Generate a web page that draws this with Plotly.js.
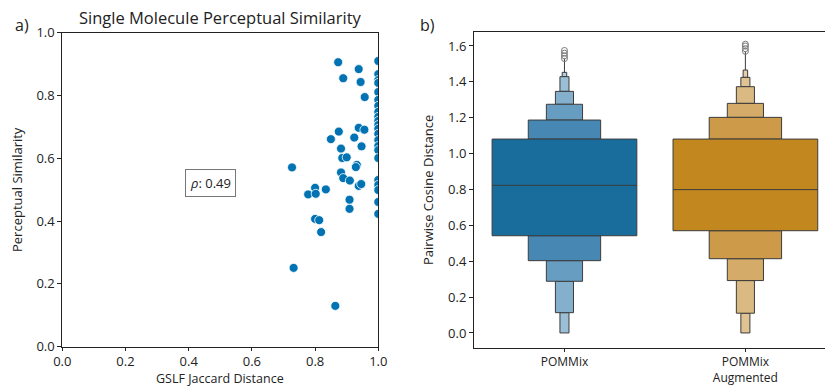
<!DOCTYPE html>
<html><head><meta charset="utf-8">
<script src="https://cdn.plot.ly/plotly-3.0.1.min.js"></script>
<style>html,body{margin:0;padding:0;background:#fff}#chart{width:825px;height:387px}</style>
</head><body><div id="chart"></div>
<script>
// ---- Panel a) scatter data ----
const jaccardX = [0.873,0.938,0.889,0.944,0.957,0.938,0.956,0.875,0.850,0.924,0.947,0.882,0.886,0.900,0.727,0.932,0.929,0.882,0.889,0.910,0.800,0.834,0.938,0.946,0.778,0.802,0.909,0.909,0.800,0.813,0.819,0.732,0.864,
  1,1,1,1,1,1,1,1,1,1,1,1,1,1,1,1,1,1,1,1,1,1];
const perceptY = [0.906,0.884,0.855,0.843,0.795,0.697,0.691,0.685,0.661,0.666,0.638,0.631,0.601,0.603,0.571,0.579,0.572,0.555,0.537,0.529,0.506,0.501,0.512,0.518,0.485,0.487,0.468,0.439,0.407,0.403,0.365,0.251,0.130,
  0.910,0.868,0.849,0.840,0.811,0.786,0.767,0.748,0.732,0.719,0.706,0.694,0.678,0.658,0.639,0.626,0.601,0.531,0.515,0.499,0.461,0.423];
const rhoText = "<i>ρ</i>: 0.49";

// ---- Panel b) boxen data ----
const categories = ["POMMix", "POMMix<br>Augmented"];
const medians = [0.823, 0.799];
const upperEdges = [
  [1.081, 1.187, 1.275, 1.347, 1.429, 1.453],
  [1.081, 1.202, 1.280, 1.373, 1.425, 1.466]
];
const lowerEdges = [
  [0.542, 0.403, 0.288, 0.113, 0.000],
  [0.570, 0.414, 0.292, 0.110, 0.000]
];
const outliers = [
  [1.530, 1.545, 1.560, 1.575],
  [1.570, 1.585, 1.600, 1.610]
];
const yTicksA = [0.0,0.2,0.4,0.6,0.8,1.0];
const yTicksB = [0.0,0.2,0.4,0.6,0.8,1.0,1.2,1.4,1.6];

// ---- styles ----
const levelColors = [
  ["#186d9d","#4688b3","#669dc1","#84afcd","#9bbfd7","#b2cee2"],
  ["#c3871f","#cc9a48","#d4ab69","#dab982","#dfc393","#e6cfa8"]
];
const edgeColor = "#3c3c3c";
const font = "'Open Sans', 'DejaVu Sans', sans-serif";

const traces = [];
traces.push({
  type:"scatter", mode:"markers", x:jaccardX, y:perceptY, xaxis:"x", yaxis:"y",
  marker:{color:"#0173b2", size:9, line:{color:"#ffffff", width:0.8}},
  cliponaxis:true, hoverinfo:"skip", showlegend:false
});

const nLevels = 6;
for (let k = nLevels-1; k >= 0; k--) {
  const w = 0.8 / Math.pow(2, k);
  const xs=[], bases=[], hs=[], cols=[], ws=[];
  for (let c = 0; c < categories.length; c++) {
    if (k === 0) {
      xs.push(c); bases.push(lowerEdges[c][0]); hs.push(upperEdges[c][0]-lowerEdges[c][0]);
      cols.push(levelColors[c][0]); ws.push(w);
    } else {
      if (k < upperEdges[c].length) {
        xs.push(c); bases.push(upperEdges[c][k-1]); hs.push(upperEdges[c][k]-upperEdges[c][k-1]);
        cols.push(levelColors[c][k]); ws.push(w);
      }
      if (k < lowerEdges[c].length) {
        xs.push(c); bases.push(lowerEdges[c][k]); hs.push(lowerEdges[c][k-1]-lowerEdges[c][k]);
        cols.push(levelColors[c][k]); ws.push(w);
      }
    }
  }
  traces.push({
    type:"bar", x:xs, y:hs, base:bases, width:ws, xaxis:"x2", yaxis:"y2",
    marker:{color:cols, line:{color:edgeColor, width:1}},
    hoverinfo:"skip", showlegend:false
  });
}
for (let c = 0; c < categories.length; c++) {
  traces.push({type:"scatter", mode:"lines", x:[c-0.4, c+0.4], y:[medians[c], medians[c]],
    xaxis:"x2", yaxis:"y2", line:{color:edgeColor, width:1}, hoverinfo:"skip", showlegend:false});
  const top = upperEdges[c][upperEdges[c].length-1];
  traces.push({type:"scatter", mode:"lines", x:[c, c], y:[top, Math.min(...outliers[c])],
    xaxis:"x2", yaxis:"y2", line:{color:edgeColor, width:1}, hoverinfo:"skip", showlegend:false});
  traces.push({type:"scatter", mode:"markers", x:outliers[c].map(()=>c), y:outliers[c],
    xaxis:"x2", yaxis:"y2", marker:{symbol:"circle-open", size:6, color:"#7a7a7a", line:{width:1}},
    hoverinfo:"skip", showlegend:false});
}

const W = 825, H = 387;
const fx = p => p / W, fy = p => (H - p) / H;
const tickFont = {family:font, size:13, color:"#222"};
const axBase = {showgrid:false, zeroline:false, showline:true, linecolor:"#222", linewidth:1,
  ticks:"outside", ticklen:4, tickcolor:"#222", tickfont:tickFont};

const layout = {
  width:W, height:H, margin:{l:0,r:0,t:0,b:0}, paper_bgcolor:"#fff", plot_bgcolor:"#fff",
  barmode:"overlay", bargap:0, font:{family:font, color:"#222"},
  xaxis: Object.assign({}, axBase, {domain:[fx(62.3), fx(378.3)], range:[0,1], mirror:true,
    tickvals:yTicksA, tickformat:".1f", anchor:"y", ticklen:3}),
  yaxis: Object.assign({}, axBase, {domain:[fy(346.7), fy(32.7)], range:[0,1], mirror:true,
    tickvals:yTicksA, tickformat:".1f", anchor:"x"}),
  xaxis2: Object.assign({}, axBase, {domain:[fx(474), 1], range:[-0.5, 1.44], mirror:true,
    tickvals:[0,1], ticktext:categories, anchor:"y2", ticklen:3,
    tickfont:{family:font, size:12, color:"#222"}}),
  yaxis2: Object.assign({}, axBase, {domain:[fy(348), fy(32)], range:[-0.084, 1.678],
    tickvals:yTicksB, tickformat:".1f", anchor:"x2"}),
  annotations:[
    {xref:"paper", yref:"paper", x:fx(220), y:fy(17), text:"Single Molecule Perceptual Similarity",
      showarrow:false, font:{family:font, size:16.5, color:"#222"}, xanchor:"center", yanchor:"middle"},
    {xref:"paper", yref:"paper", x:fx(13), y:fy(25), text:"a)", showarrow:false,
      font:{family:font, size:16, color:"#222"}, xanchor:"left", yanchor:"middle"},
    {xref:"paper", yref:"paper", x:fx(418), y:fy(25), text:"b)", showarrow:false,
      font:{family:font, size:16, color:"#222"}, xanchor:"left", yanchor:"middle"},
    {xref:"paper", yref:"paper", x:fx(220), y:fy(378.5), text:"GSLF Jaccard Distance", showarrow:false,
      font:{family:font, size:12.5, color:"#222"}, xanchor:"center", yanchor:"middle", borderpad:0},
    {xref:"paper", yref:"paper", x:fx(17), y:fy(190), text:"Perceptual Similarity", showarrow:false, textangle:-90,
      font:{family:font, size:13, color:"#222"}, xanchor:"center", yanchor:"middle"},
    {xref:"paper", yref:"paper", x:fx(428), y:fy(190), text:"Pairwise Cosine Distance", showarrow:false, textangle:-90,
      font:{family:font, size:13, color:"#222"}, xanchor:"center", yanchor:"middle"},
    {xref:"x", yref:"y", x:0.47, y:0.521, text:rhoText, showarrow:false,
      font:{family:font, size:13, color:"#222"}, bordercolor:"#777", borderwidth:1, borderpad:4,
      bgcolor:"#fff", xanchor:"center", yanchor:"middle"}
  ]
};
Plotly.newPlot("chart", traces, layout, {staticPlot:true, displayModeBar:false});
</script></body></html>
